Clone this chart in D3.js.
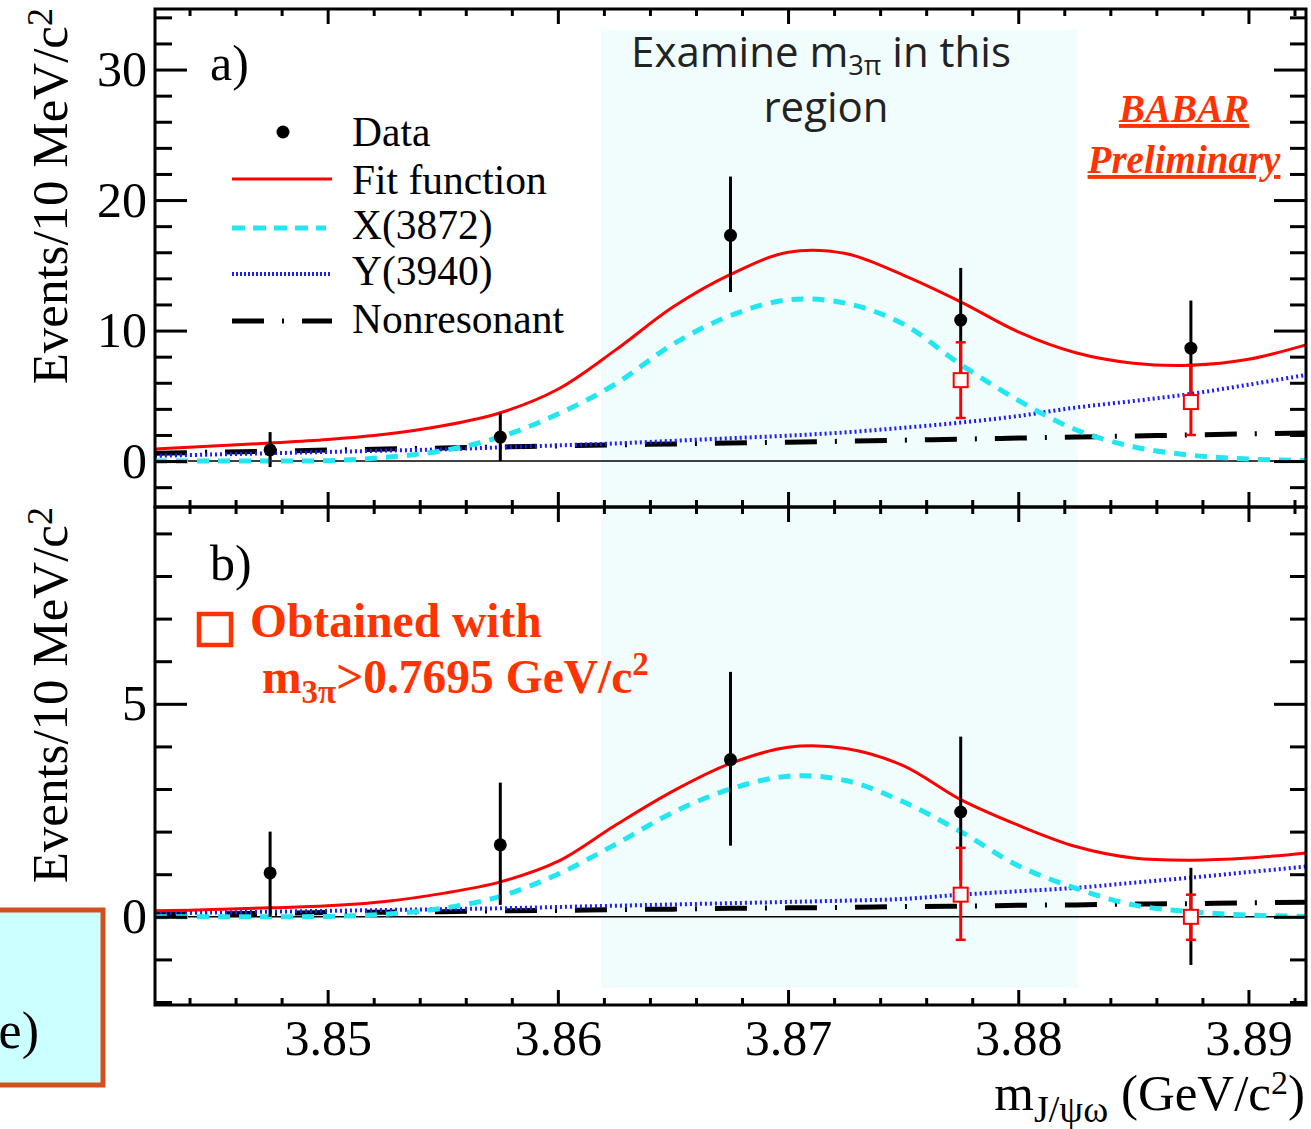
<!DOCTYPE html>
<html>
<head>
<meta charset="utf-8">
<script src="https://cdn.jsdelivr.net/npm/d3@7"></script>
<style>
  body { margin: 0; background: #fff; }
  text { font-family: 'Liberation Serif', 'Times New Roman', serif; }
</style>
</head>
<body>
<div id="graf"></div>
<script>
// ---- data ----
const massGrid = [3.8425, 3.845, 3.8475, 3.85, 3.8525, 3.855, 3.8575, 3.86, 3.8625, 3.865, 3.8675,
  3.87, 3.8725, 3.875, 3.8775, 3.88, 3.8825, 3.885, 3.8875, 3.89, 3.8925]

// panel a)
const fitA = [0.92, 1.15, 1.38, 1.65, 2.05, 2.7, 3.7, 5.5, 8.5, 11.8, 14.3, 16.0, 15.9, 14.25, 12.2, 9.9, 8.3, 7.5, 7.35, 7.8, 8.9]
const x3872A = [0, 0, 0, 0.03, 0.28, 0.8, 1.85, 3.6, 5.9, 8.95, 11.15, 12.35, 12.1, 10.5, 7.4, 4.65, 2.4, 1.1, 0.45, 0.15, 0.05]
const y3940A = [0.4, 0.5, 0.6, 0.7, 0.8, 0.9, 1.05, 1.2, 1.35, 1.55, 1.75, 1.95, 2.2, 2.55, 2.95, 3.45, 4.1, 4.6, 5.15, 5.85, 6.6]
const nonresA = [0.6, 0.68, 0.76, 0.84, 0.92, 1.0, 1.08, 1.16, 1.24, 1.31, 1.38, 1.45, 1.52, 1.6, 1.68, 1.76, 1.84, 1.92, 2.0, 2.08, 2.15]

// panel b)
const fitB = [0.14, 0.17, 0.21, 0.26, 0.36, 0.55, 0.82, 1.3, 2.15, 2.95, 3.6, 3.98, 3.95, 3.55, 2.75, 2.15, 1.65, 1.38, 1.33, 1.38, 1.5]
const x3872B = [0, 0, 0, 0.01, 0.06, 0.2, 0.48, 1.0, 1.7, 2.45, 3.0, 3.3, 3.2, 2.7, 2.0, 1.2, 0.67, 0.28, 0.12, 0.04, 0.01]
const y3940B = [0.08, 0.1, 0.12, 0.14, 0.16, 0.18, 0.2, 0.23, 0.26, 0.29, 0.32, 0.35, 0.38, 0.42, 0.52, 0.6, 0.68, 0.8, 0.92, 1.05, 1.18]
const nonresB = [0.06, 0.07, 0.08, 0.1, 0.11, 0.12, 0.14, 0.15, 0.17, 0.18, 0.2, 0.21, 0.22, 0.24, 0.25, 0.27, 0.28, 0.3, 0.31, 0.33, 0.34]

// data points (bin centres)
const binMass = [3.8475, 3.8575, 3.8675, 3.8775, 3.8875]
const dataA = [0.85, 1.84, 17.3, 10.8, 8.65]
const errUpA = [1.37, 1.84, 4.5, 4.0, 3.65]
const errDnA = [1.31, 1.84, 4.35, 4.0, 3.65]
const dataB = [1.03, 1.69, 3.69, 2.46, 0.0]
const errUpB = [0.97, 1.46, 2.06, 1.77, 1.15]
const errDnB = [1.03, 1.41, 2.02, 1.6, 1.13]

// open squares: m3pi > 0.7695
const cutMass = [3.8775, 3.8875]
const cutA = [6.2, 4.52]
const cutUpA = [2.9, 2.84]
const cutDnA = [2.9, 2.52]
const cutB = [0.52, 0.0]
const cutUpB = [1.1, 0.52]
const cutDnB = [1.06, 0.54]

const xMajor = [3.85, 3.86, 3.87, 3.88, 3.89]
const yMajorA = [0, 10, 20, 30]
const yMajorB = [0, 5]

const legendItems = ['Data', 'Fit function', 'X(3872)', 'Y(3940)', 'Nonresonant']

// ---- layout ----
const W = 1311, H = 1129
const left = 155, right = 1306
const topA = 9, mid = 507, botB = 1005

const svg = d3.select('#graf').append('svg')
  .attr('width', W).attr('height', H)
  .style('display', 'block')

svg.append('rect').attr('width', W).attr('height', H).attr('fill', '#fff')

const x = d3.scaleLinear().domain([3.8425, 3.8925]).range([left, right])
const yA = d3.scaleLinear().domain([-3.52, 34.64]).range([mid, topA])
const yB = d3.scaleLinear().domain([-2.07, 9.62]).range([botB, mid])

const xMinor = d3.range(3.844, 3.8925, 0.002).filter(v => xMajor.every(m => Math.abs(m - v) > 1e-6))
const yMinorA = d3.range(-2, 35, 2).filter(v => v % 10 !== 0)
const yMinorB = d3.range(-2, 10, 1).filter(v => v % 5 !== 0)

const red = '#ff0000', cyan = '#22e6f0', blue = '#1c1cff', orange = '#ff3300'

// shaded "examine" band
svg.append('rect')
  .attr('x', 601).attr('y', 30)
  .attr('width', 477).attr('height', 958)
  .attr('fill', '#f1fdfd')

function panel(y, fit, xs, ys, nr, vals, up, dn, cv, cup, cdn) {
  const g = svg.append('g')

  g.append('line')
    .attr('x1', left).attr('x2', right)
    .attr('y1', y(0)).attr('y2', y(0))
    .attr('stroke', '#000').attr('stroke-width', 1.5)

  const line = vs => d3.line()
    .x((d, i) => x(massGrid[i]))
    .y(d => y(d))
    .curve(d3.curveCatmullRom.alpha(0.5))(vs)

  g.append('path').attr('d', line(nr))
    .attr('fill', 'none').attr('stroke', '#000').attr('stroke-width', 5)
    .attr('stroke-dasharray', '32,18,2,18')
  g.append('path').attr('d', line(ys))
    .attr('fill', 'none').attr('stroke', blue).attr('stroke-width', 4)
    .attr('stroke-dasharray', '2,3')
  g.append('path').attr('d', line(xs))
    .attr('fill', 'none').attr('stroke', cyan).attr('stroke-width', 5)
    .attr('stroke-dasharray', '12,9')
  g.append('path').attr('d', line(fit))
    .attr('fill', 'none').attr('stroke', red).attr('stroke-width', 3)

  // black data
  g.selectAll('.err').data(vals).enter().append('line')
    .attr('x1', (d, i) => x(binMass[i])).attr('x2', (d, i) => x(binMass[i]))
    .attr('y1', (d, i) => y(d + up[i])).attr('y2', (d, i) => y(d - dn[i]))
    .attr('stroke', '#000').attr('stroke-width', 3)
  g.selectAll('.pt').data(vals).enter().append('circle')
    .attr('cx', (d, i) => x(binMass[i])).attr('cy', d => y(d))
    .attr('r', 6.5).attr('fill', '#000')

  // red open squares with capped errors
  const c = g.selectAll('.cut').data(cv).enter().append('g')
  c.append('line')
    .attr('x1', (d, i) => x(cutMass[i])).attr('x2', (d, i) => x(cutMass[i]))
    .attr('y1', (d, i) => y(d + cup[i])).attr('y2', (d, i) => y(d - cdn[i]))
    .attr('stroke', red).attr('stroke-width', 3)
  c.append('line')
    .attr('x1', (d, i) => x(cutMass[i]) - 5).attr('x2', (d, i) => x(cutMass[i]) + 5)
    .attr('y1', (d, i) => y(d + cup[i])).attr('y2', (d, i) => y(d + cup[i]))
    .attr('stroke', red).attr('stroke-width', 2.5)
  c.append('line')
    .attr('x1', (d, i) => x(cutMass[i]) - 5).attr('x2', (d, i) => x(cutMass[i]) + 5)
    .attr('y1', (d, i) => y(d - cdn[i])).attr('y2', (d, i) => y(d - cdn[i]))
    .attr('stroke', red).attr('stroke-width', 2.5)
  c.append('rect')
    .attr('x', (d, i) => x(cutMass[i]) - 7).attr('y', d => y(d) - 7)
    .attr('width', 14).attr('height', 14)
    .attr('fill', '#fff').attr('stroke', red).attr('stroke-width', 2)
}

panel(yA, fitA, x3872A, y3940A, nonresA, dataA, errUpA, errDnA, cutA, cutUpA, cutDnA)
panel(yB, fitB, x3872B, y3940B, nonresB, dataB, errUpB, errDnB, cutB, cutUpB, cutDnB)

// ---- axes ----
function styleAxis(sel) {
  sel.select('.domain').remove()
  sel.selectAll('line').attr('stroke', '#000').attr('stroke-width', 3)
  sel.selectAll('text').attr('font-size', 50).attr('fill', '#000')
    .attr('font-family', "'Liberation Serif', serif")
}

function addAxis(axis, tx, ty) {
  svg.append('g').attr('transform', `translate(${tx},${ty})`).call(axis).call(styleAxis)
}

// x axes
addAxis(d3.axisTop(x).tickValues(xMajor).tickSize(-15).tickFormat(''), 0, topA)
addAxis(d3.axisTop(x).tickValues(xMinor).tickSize(-7).tickFormat(''), 0, topA)
addAxis(d3.axisBottom(x).tickValues(xMajor).tickSize(-15).tickFormat(''), 0, mid)
addAxis(d3.axisBottom(x).tickValues(xMinor).tickSize(-7).tickFormat(''), 0, mid)
addAxis(d3.axisTop(x).tickValues(xMajor).tickSize(-15).tickFormat(''), 0, mid)
addAxis(d3.axisTop(x).tickValues(xMinor).tickSize(-7).tickFormat(''), 0, mid)
addAxis(d3.axisBottom(x).tickValues(xMajor).tickSize(-15).tickPadding(14).tickFormat(d3.format('.2f')), 0, botB)
addAxis(d3.axisBottom(x).tickValues(xMinor).tickSize(-7).tickFormat(''), 0, botB)

// y axes
addAxis(d3.axisLeft(yA).tickValues(yMajorA).tickSize(-32).tickPadding(8), left, 0)
addAxis(d3.axisLeft(yA).tickValues(yMinorA).tickSize(-17).tickFormat(''), left, 0)
addAxis(d3.axisRight(yA).tickValues(yMajorA).tickSize(-32).tickFormat(''), right, 0)
addAxis(d3.axisRight(yA).tickValues(yMinorA).tickSize(-16).tickFormat(''), right, 0)
addAxis(d3.axisLeft(yB).tickValues(yMajorB).tickSize(-32).tickPadding(8), left, 0)
addAxis(d3.axisLeft(yB).tickValues(yMinorB).tickSize(-17).tickFormat(''), left, 0)
addAxis(d3.axisRight(yB).tickValues(yMajorB).tickSize(-32).tickFormat(''), right, 0)
addAxis(d3.axisRight(yB).tickValues(yMinorB).tickSize(-16).tickFormat(''), right, 0)

// frames
svg.append('rect').attr('x', left).attr('y', topA).attr('width', right - left).attr('height', mid - topA)
  .attr('fill', 'none').attr('stroke', '#000').attr('stroke-width', 3)
svg.append('rect').attr('x', left).attr('y', mid).attr('width', right - left).attr('height', botB - mid)
  .attr('fill', 'none').attr('stroke', '#000').attr('stroke-width', 3)

// ---- titles ----
function yTitle(ty) {
  const t = svg.append('text')
    .attr('transform', `translate(67,${ty}) rotate(-90)`)
    .attr('text-anchor', 'end').attr('font-size', 51)
  t.append('tspan').text('Events/10 MeV/c')
  t.append('tspan').attr('dy', '-0.42em').attr('font-size', 36).text('2')
}
yTitle(8)
yTitle(507)

const xt = svg.append('text').attr('x', 1305).attr('y', 1110)
  .attr('text-anchor', 'end').attr('font-size', 51)
xt.append('tspan').text('m')
xt.append('tspan').attr('dy', 12).attr('font-size', 38).text('J/ψω')
xt.append('tspan').attr('dy', -12).text(' (GeV/c')
xt.append('tspan').attr('dy', -16).attr('font-size', 34).text('2')
xt.append('tspan').attr('dy', 16).text(')')

svg.append('text').attr('x', 210).attr('y', 80).attr('font-size', 50).text('a)')
svg.append('text').attr('x', 210).attr('y', 580).attr('font-size', 50).text('b)')

// ---- legend ----
const legY = [132, 179, 228, 274, 321]
const legTextY = [146, 194, 239, 285, 333]
const leg = svg.append('g')
leg.append('circle').attr('cx', 283).attr('cy', legY[0]).attr('r', 6.5).attr('fill', '#000')
leg.append('line').attr('x1', 232).attr('x2', 332).attr('y1', legY[1]).attr('y2', legY[1])
  .attr('stroke', red).attr('stroke-width', 3)
leg.append('line').attr('x1', 232).attr('x2', 326).attr('y1', legY[2]).attr('y2', legY[2])
  .attr('stroke', cyan).attr('stroke-width', 5).attr('stroke-dasharray', '13,8')
leg.append('line').attr('x1', 232).attr('x2', 330).attr('y1', legY[3]).attr('y2', legY[3])
  .attr('stroke', blue).attr('stroke-width', 4).attr('stroke-dasharray', '2,2')
leg.append('line').attr('x1', 232).attr('x2', 332).attr('y1', legY[4]).attr('y2', legY[4])
  .attr('stroke', '#000').attr('stroke-width', 5).attr('stroke-dasharray', '32,18,2,18')
leg.selectAll('.lt').data(legendItems).enter().append('text')
  .attr('x', 352).attr('y', (d, i) => legTextY[i])
  .attr('font-size', 41.5).text(d => d)

// ---- annotations ----
const ex = svg.append('text').attr('x', 821).attr('y', 67)
  .attr('text-anchor', 'middle').attr('font-size', 42).attr('fill', '#222')
  .style('font-family', "'Open Sans', sans-serif")
ex.append('tspan').text('Examine m')
ex.append('tspan').attr('dy', 8).attr('font-size', 27).text('3π')
ex.append('tspan').attr('dy', -8).text(' in this')
svg.append('text').attr('x', 826).attr('y', 122)
  .attr('text-anchor', 'middle').attr('font-size', 42).attr('fill', '#222')
  .style('font-family', "'Open Sans', sans-serif")
  .text('region')

svg.append('text').attr('x', 1184).attr('y', 122).attr('text-anchor', 'middle')
  .attr('font-size', 39).attr('font-weight', 'bold').attr('font-style', 'italic')
  .attr('fill', orange).style('text-decoration', 'underline').text('BABAR')
svg.append('text').attr('x', 1184).attr('y', 173).attr('text-anchor', 'middle')
  .attr('font-size', 39).attr('font-weight', 'bold').attr('font-style', 'italic')
  .attr('fill', orange).style('text-decoration', 'underline').text('Preliminary')

svg.append('rect').attr('x', 199).attr('y', 614).attr('width', 32).attr('height', 31)
  .attr('fill', 'none').attr('stroke', orange).attr('stroke-width', 4.5)
svg.append('text').attr('x', 250).attr('y', 637)
  .attr('font-size', 47.5).attr('font-weight', 'bold').attr('fill', orange)
  .text('Obtained with')
const cut = svg.append('text').attr('x', 262).attr('y', 693)
  .attr('font-size', 47.5).attr('font-weight', 'bold').attr('fill', orange)
cut.append('tspan').text('m')
cut.append('tspan').attr('dy', 10).attr('font-size', 33).text('3π')
cut.append('tspan').attr('dy', -10).text('>0.7695 GeV/c')
cut.append('tspan').attr('dy', -18).attr('font-size', 33).text('2')

// cut-off box at the left edge
svg.append('rect').attr('x', -10).attr('y', 910).attr('width', 113).attr('height', 175)
  .attr('fill', '#ccffff').attr('stroke', '#d2501e').attr('stroke-width', 5)
svg.append('text').attr('x', 39).attr('y', 1048).attr('text-anchor', 'end')
  .attr('font-size', 52).text('e)')
</script>
</body>
</html>
